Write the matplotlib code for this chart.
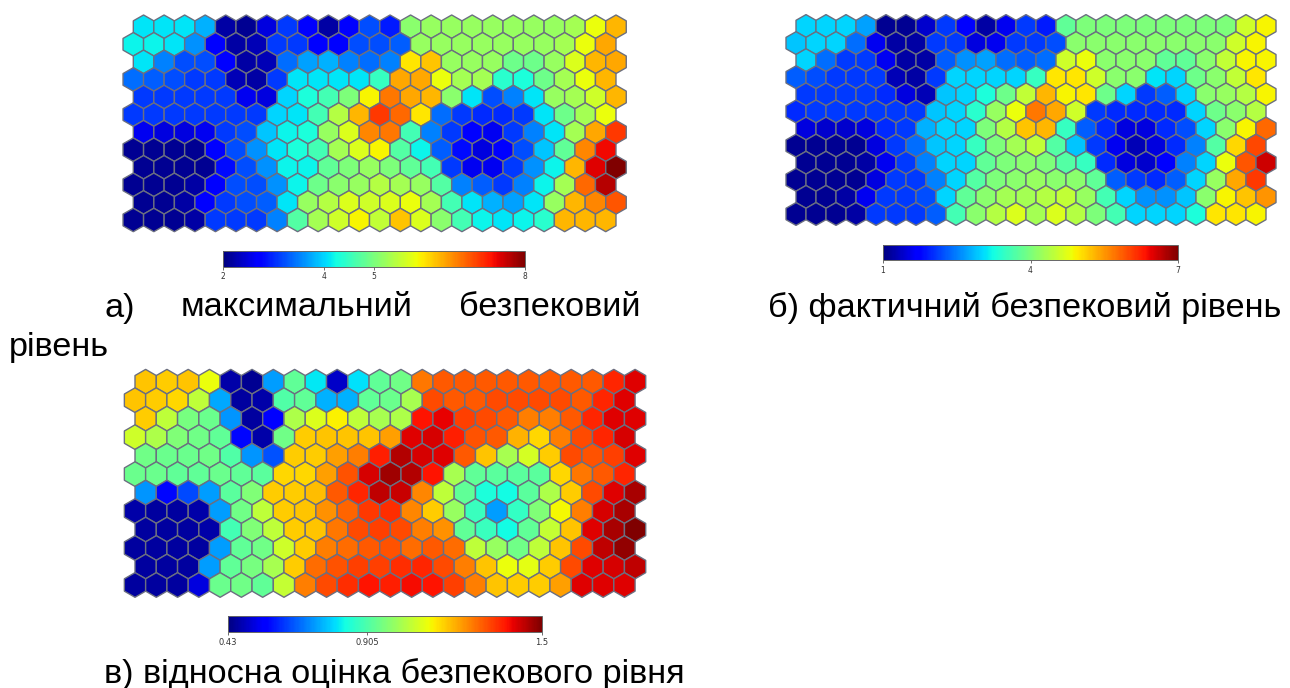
import matplotlib
matplotlib.use('Agg')
import matplotlib.pyplot as plt
import numpy as np
from matplotlib.collections import PolyCollection
from matplotlib.colors import Normalize

plt.rcParams['font.family'] = ['Liberation Sans', 'DejaVu Sans']

# Map a) maximum security level, 12 rows of 24 cells, top row first
max_level = [
    [4.1, 4.1, 4.1, 3.8, 2.2, 2.1, 2.5, 3.1, 2.7, 2.2, 2.7, 3.2, 2.9, 5.1, 5.2, 5.2, 5.2, 5.2, 5.2, 5.2, 5.2, 5.3, 5.8, 6.3],
    [4.2, 4.2, 4.1, 3.6, 2.7, 2.2, 2.3, 3.1, 3.1, 2.7, 2.7, 3.2, 3.2, 3.3, 5.2, 5.2, 5.2, 5.2, 5.2, 5.2, 5.2, 5.3, 5.8, 6.4],
    [4.1, 3.5, 3.2, 3.2, 2.7, 2.2, 2.3, 3.4, 3.7, 3.8, 3.5, 3.4, 3.5, 6.0, 6.2, 5.2, 5.2, 5.2, 4.9, 4.9, 5.2, 5.7, 6.3, 6.4],
    [3.4, 3.3, 3.2, 3.1, 3.1, 2.3, 2.2, 3.1, 4.1, 4.1, 4.1, 4.1, 4.5, 6.4, 6.4, 5.8, 5.3, 5.3, 4.4, 4.3, 4.9, 5.3, 5.8, 6.3],
    [3.1, 3.1, 3.1, 3.1, 3.1, 2.6, 2.5, 4.0, 4.3, 4.6, 5.0, 5.9, 6.7, 6.4, 6.3, 5.1, 4.1, 3.2, 3.5, 4.1, 5.2, 5.3, 5.6, 6.3],
    [3.1, 3.1, 3.1, 3.1, 3.1, 3.1, 3.1, 4.0, 4.1, 4.6, 5.4, 6.3, 7.1, 6.8, 6.0, 3.4, 3.1, 3.0, 3.0, 3.1, 4.1, 4.9, 5.3, 5.8],
    [2.6, 2.5, 2.5, 2.6, 3.1, 3.2, 3.9, 4.2, 4.3, 5.2, 5.7, 6.6, 6.7, 4.6, 3.5, 3.1, 2.7, 2.6, 3.1, 3.5, 4.1, 5.3, 6.4, 7.1],
    [2.1, 2.1, 2.1, 2.1, 2.7, 3.2, 3.6, 4.1, 4.3, 4.6, 5.3, 5.7, 5.9, 4.7, 4.2, 3.3, 2.8, 2.5, 2.7, 3.2, 3.9, 4.8, 6.6, 7.4],
    [2.1, 2.1, 2.1, 2.1, 2.8, 3.2, 3.6, 4.2, 4.2, 4.8, 5.0, 5.2, 5.0, 4.8, 4.6, 3.1, 2.6, 2.6, 3.1, 3.6, 4.2, 6.3, 7.5, 8.0],
    [2.1, 2.1, 2.1, 2.2, 2.7, 3.2, 3.2, 3.6, 4.2, 4.9, 5.1, 5.2, 5.4, 5.3, 5.2, 4.7, 3.5, 3.3, 3.1, 3.5, 4.2, 5.3, 6.8, 7.7],
    [2.1, 2.1, 2.2, 2.7, 3.1, 3.2, 3.3, 4.1, 5.2, 5.4, 5.7, 5.6, 5.7, 5.8, 5.3, 4.6, 4.1, 3.8, 3.7, 4.1, 5.2, 6.3, 6.6, 6.9],
    [2.1, 2.1, 2.1, 2.2, 3.1, 3.1, 3.1, 3.5, 4.7, 5.3, 5.6, 5.9, 5.5, 6.2, 5.7, 5.1, 4.6, 4.2, 4.1, 4.2, 4.4, 6.3, 6.3, 6.3],
]

# Map b) actual security level
actual_level = [
    [3.0, 3.0, 3.0, 2.7, 1.1, 1.1, 1.4, 2.1, 1.7, 1.2, 1.6, 2.1, 1.9, 3.8, 4.0, 4.0, 4.0, 4.0, 4.0, 4.0, 4.0, 4.0, 4.6, 4.9],
    [2.9, 3.0, 3.0, 2.4, 1.6, 1.2, 1.2, 2.1, 2.1, 1.5, 1.6, 2.1, 2.1, 2.2, 4.1, 4.1, 4.1, 4.1, 4.1, 4.1, 4.1, 4.1, 4.6, 4.9],
    [3.0, 2.4, 2.1, 2.1, 1.6, 1.2, 1.2, 2.3, 2.6, 2.7, 2.4, 2.3, 2.4, 4.6, 4.8, 4.1, 4.1, 4.1, 3.8, 3.8, 4.1, 4.5, 4.9, 4.9],
    [2.3, 2.2, 2.1, 2.1, 2.1, 1.3, 1.2, 2.1, 3.0, 3.0, 3.0, 3.0, 3.5, 5.0, 5.0, 4.6, 4.1, 4.1, 3.1, 3.0, 3.9, 4.1, 4.5, 5.0],
    [2.1, 2.1, 2.1, 2.1, 2.0, 1.5, 1.3, 2.9, 3.0, 3.3, 3.9, 4.5, 5.3, 4.9, 5.0, 3.9, 3.0, 2.1, 2.3, 3.0, 4.1, 4.2, 4.4, 4.9],
    [2.0, 2.1, 2.1, 2.1, 2.1, 2.1, 2.1, 2.9, 3.0, 3.4, 4.2, 4.8, 5.7, 5.4, 4.6, 2.1, 2.0, 2.0, 2.0, 2.0, 3.0, 3.9, 4.1, 4.4],
    [1.5, 1.4, 1.4, 1.5, 2.0, 2.1, 2.8, 3.0, 3.0, 4.0, 4.4, 5.2, 5.3, 3.5, 2.3, 2.0, 1.5, 1.5, 2.0, 2.2, 3.0, 4.1, 4.9, 5.8],
    [1.1, 1.1, 1.1, 1.1, 1.5, 2.1, 2.4, 2.9, 3.0, 3.5, 4.0, 4.3, 4.5, 3.7, 2.9, 2.1, 1.6, 1.3, 1.5, 2.0, 2.5, 3.7, 5.1, 6.0],
    [1.1, 1.1, 1.1, 1.2, 1.6, 2.1, 2.5, 3.0, 3.0, 3.8, 4.0, 4.1, 4.0, 3.7, 3.5, 2.0, 1.5, 1.4, 1.7, 2.5, 3.0, 4.8, 5.9, 6.6],
    [1.1, 1.1, 1.1, 1.1, 1.5, 2.1, 2.1, 2.5, 3.0, 3.7, 4.0, 4.1, 4.2, 4.1, 4.1, 3.8, 2.3, 2.1, 2.0, 2.3, 3.0, 4.2, 5.4, 6.1],
    [1.1, 1.1, 1.2, 1.6, 2.1, 2.1, 2.2, 3.0, 3.8, 4.1, 4.3, 4.3, 4.4, 4.5, 4.2, 3.6, 3.0, 2.6, 2.6, 2.9, 4.1, 4.9, 5.2, 5.5],
    [1.1, 1.1, 1.1, 1.2, 2.1, 2.1, 2.1, 2.3, 3.6, 4.1, 4.4, 4.7, 4.3, 4.7, 4.4, 4.0, 3.6, 3.0, 3.0, 3.0, 3.3, 5.0, 5.0, 4.9],
]

# Map c) relative estimate of the security level
relative_level = [
    [1.18, 1.17, 1.18, 1.11, 0.47, 0.45, 0.73, 0.93, 0.81, 0.50, 0.80, 0.93, 0.95, 1.27, 1.30, 1.30, 1.30, 1.30, 1.30, 1.30, 1.30, 1.30, 1.36, 1.41],
    [1.18, 1.17, 1.16, 1.05, 0.74, 0.46, 0.47, 0.91, 0.93, 0.75, 0.75, 0.93, 0.94, 1.02, 1.32, 1.30, 1.30, 1.32, 1.32, 1.32, 1.32, 1.30, 1.36, 1.41],
    [1.17, 1.05, 0.96, 0.94, 0.72, 0.46, 0.56, 1.03, 1.09, 1.13, 1.05, 1.02, 1.03, 1.38, 1.40, 1.33, 1.32, 1.30, 1.26, 1.26, 1.30, 1.36, 1.41, 1.41],
    [1.07, 1.03, 0.97, 0.95, 0.93, 0.57, 0.47, 0.95, 1.17, 1.18, 1.18, 1.18, 1.22, 1.41, 1.42, 1.37, 1.31, 1.30, 1.20, 1.16, 1.26, 1.32, 1.36, 1.42],
    [0.95, 0.94, 0.94, 0.95, 0.91, 0.72, 0.65, 1.17, 1.17, 1.22, 1.26, 1.37, 1.45, 1.42, 1.41, 1.30, 1.18, 1.02, 1.08, 1.17, 1.32, 1.31, 1.33, 1.41],
    [0.94, 0.94, 0.93, 0.93, 0.94, 0.93, 0.92, 1.16, 1.16, 1.22, 1.31, 1.42, 1.47, 1.45, 1.38, 1.02, 0.93, 0.92, 0.92, 0.92, 1.16, 1.27, 1.30, 1.36],
    [0.72, 0.57, 0.64, 0.73, 0.92, 0.97, 1.17, 1.17, 1.19, 1.30, 1.36, 1.44, 1.43, 1.25, 1.05, 0.93, 0.84, 0.83, 0.92, 1.03, 1.17, 1.32, 1.41, 1.46],
    [0.47, 0.46, 0.46, 0.47, 0.73, 0.95, 1.05, 1.17, 1.18, 1.24, 1.29, 1.34, 1.35, 1.25, 1.17, 1.00, 0.88, 0.73, 0.87, 0.97, 1.12, 1.26, 1.42, 1.46],
    [0.46, 0.46, 0.46, 0.47, 0.89, 0.97, 1.05, 1.17, 1.18, 1.27, 1.32, 1.33, 1.32, 1.26, 1.24, 0.93, 0.88, 0.83, 0.93, 1.06, 1.18, 1.41, 1.46, 1.50],
    [0.46, 0.46, 0.46, 0.46, 0.73, 0.93, 0.95, 1.07, 1.17, 1.26, 1.28, 1.30, 1.31, 1.28, 1.30, 1.28, 1.05, 1.00, 0.95, 1.05, 1.18, 1.32, 1.44, 1.48],
    [0.46, 0.46, 0.46, 0.73, 0.93, 0.96, 1.02, 1.17, 1.28, 1.31, 1.33, 1.33, 1.35, 1.36, 1.32, 1.26, 1.18, 1.11, 1.10, 1.17, 1.32, 1.41, 1.42, 1.44],
    [0.46, 0.46, 0.46, 0.52, 0.94, 0.95, 0.93, 1.06, 1.26, 1.32, 1.35, 1.38, 1.37, 1.39, 1.38, 1.33, 1.26, 1.18, 1.17, 1.17, 1.22, 1.41, 1.41, 1.41],
]

max_ticks = [2, 4, 5, 8]
actual_ticks = [1, 4, 7]
relative_ticks = [0.43, 0.905, 1.5]
relative_labels = ['0.43', '0.905', '1.5']

W, H = 1290, 688


def add_axes_px(fig, left, top, right, bottom):
    return fig.add_axes([left / W, 1 - bottom / H, (right - left) / W, (bottom - top) / H])


def draw_map(fig, values, x0, y0, dx, dy, norm):
    # x0, y0 = pixel centre of the first cell in an unshifted row, dx, dy = pixel pitch
    values = np.array(values)
    rows, cols = values.shape
    ax = add_axes_px(fig, x0 - dx, y0 - dy * 1.5, x0 + dx * 25, y0 + dy * 12.5)
    ax.set_xlim(-1, 25)
    ax.set_ylim((12.5 * np.sqrt(3) / 2), (-1.5 * np.sqrt(3) / 2))
    ax.axis('off')
    angles = np.radians(np.arange(30, 390, 60))
    unit = np.column_stack([np.cos(angles), np.sin(angles)]) / np.sqrt(3)
    polys = []
    for r in range(rows):
        for c in range(cols):
            cx = c + (0.5 if r % 2 == 0 else 0)
            polys.append(unit + [cx, r * np.sqrt(3) / 2])
    coll = PolyCollection(polys, array=values.ravel(), cmap='jet', norm=norm,
                          edgecolors='#6b6f80', linewidths=1.0)
    ax.add_collection(coll)
    return coll


def draw_bar(fig, coll, box, ticks, labels, size):
    cax = add_axes_px(fig, *box)
    cb = fig.colorbar(coll, cax=cax, orientation='horizontal', ticks=ticks)
    cb.ax.set_xticklabels(labels, family='DejaVu Sans')
    cb.ax.tick_params(length=2, width=0.5, labelsize=size, pad=2, colors='#333333')
    cb.outline.set_edgecolor('#666666')
    cb.outline.set_linewidth(0.7)


fig = plt.figure(figsize=(12.9, 6.88), dpi=100)

coll_a = draw_map(fig, max_level, 133.3, 26.7, 20.54, 17.57, Normalize(2, 8))
draw_bar(fig, coll_a, (223.3, 251, 525, 266.7), max_ticks, [str(t) for t in max_ticks], 5.5)

coll_b = draw_map(fig, actual_level, 796, 26, 20.0, 17.09, Normalize(1, 7))
draw_bar(fig, coll_b, (883, 245, 1178, 260), actual_ticks, [str(t) for t in actual_ticks], 5.5)

coll_c = draw_map(fig, relative_level, 135, 381.7, 21.28, 18.48, Normalize(0.43, 1.5))
draw_bar(fig, coll_c, (227.7, 616, 541.7, 632), relative_ticks, relative_labels, 6)

captions = [
    (104, 316.5, 'а)'),
    (181, 316.5, 'максимальний'),
    (459, 316.5, 'безпековий'),
    (9, 356, 'рівень'),
    (768, 317.5, 'б) фактичний безпековий рівень'),
    (104, 683, 'в) відносна оцінка безпекового рівня'),
]
for x, y, label in captions:
    fig.text(x / W, 1 - y / H, label, fontsize=24.7, color='black', va='baseline')

fig.savefig('out.png', dpi=100)
